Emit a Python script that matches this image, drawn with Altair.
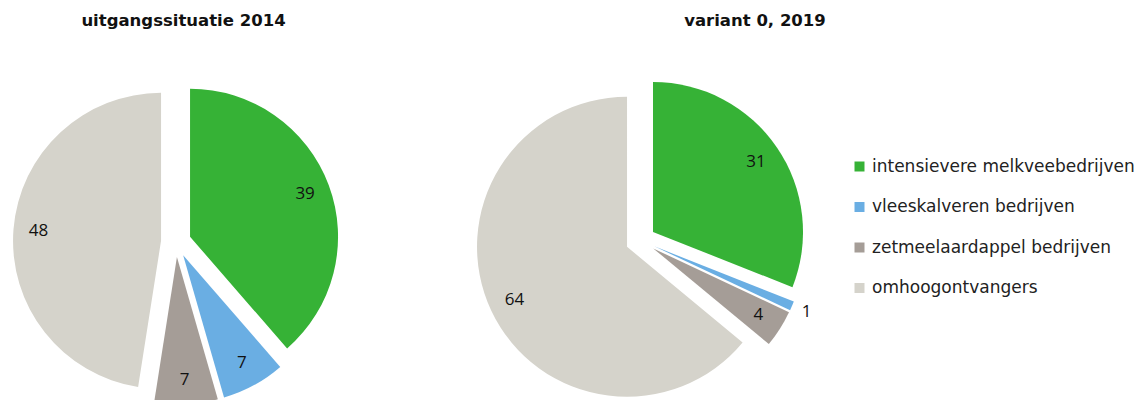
import altair as alt
import pandas as pd

# ---- data ----
panels = ["uitgangssituatie 2014", "variant 0, 2019"]
categories = [
    "intensievere melkveebedrijven",
    "vleeskalveren bedrijven",
    "zetmeelaardappel bedrijven",
    "omhoogontvangers",
]
values_2014 = [39, 7, 7, 48]
values_2019 = [31, 1, 4, 64]
colors = ["#36B236", "#6AAEE3", "#A59D97", "#D5D3CB"]

# ---- layout (pixels inside the chart) ----
CX = [168, 632.6]
CY = [234, 232.4]
R = [148, 150]
EXPLODE = 15
TITLE_X = [175.5, 747]
TITLE_Y = 13

rows = []
for p, vals in zip(panels, [values_2014, values_2019]):
    for i, (c, v) in enumerate(zip(categories, vals)):
        rows.append({"panel": p, "pidx": panels.index(p), "category": c, "order": i, "value": v})
df = pd.DataFrame(rows)

def pick(arr):
    return f"datum.pidx == 0 ? {arr[0]} : {arr[1]}"

base = (
    alt.Chart(df)
    .transform_joinaggregate(total="sum(value)", groupby=["panel"])
    .transform_window(cum="sum(value)", sort=[alt.SortField("order")], groupby=["panel"], frame=[None, 0])
    .transform_calculate(
        t1="datum.cum / datum.total * 2 * PI",
        t0="(datum.cum - datum.value) / datum.total * 2 * PI",
    )
    .transform_calculate(mid="(datum.t0 + datum.t1) / 2", cx=pick(CX), cy=pick(CY), r=pick(R))
    .transform_calculate(
        x=f"datum.cx + {EXPLODE} * sin(datum.mid)",
        y=f"datum.cy - {EXPLODE} * cos(datum.mid)",
        lr="datum.value < 3 ? datum.r + 16 : 0.83 * datum.r",
    )
    .transform_calculate(
        lx="datum.x + datum.lr * sin(datum.mid)",
        ly="datum.y - datum.lr * cos(datum.mid)",
    )
)

arcs = base.mark_arc(stroke=None).encode(
    theta=alt.Theta("t0:Q", scale=None, stack=None),
    theta2=alt.Theta2("t1:Q"),
    radius=alt.Radius("r:Q", scale=None),
    x=alt.X("x:Q", scale=None),
    y=alt.Y("y:Q", scale=None),
    color=alt.Color(
        "category:N",
        scale=alt.Scale(domain=categories, range=colors),
        legend=alt.Legend(
            title=None,
            orient="none",
            legendX=843,
            legendY=150,
            symbolType="square",
            symbolSize=100,
            symbolStrokeWidth=0,
            labelFont="DejaVu Sans",
            labelFontSize=17,
            labelColor="#222222",
            labelOffset=4,
            rowPadding=22.5,
            labelLimit=400,
        ),
    ),
    order=alt.Order("order:Q"),
)

labels = base.mark_text(font="Open Sans", fontSize=17, color="#111111", align="center", baseline="middle").encode(
    x=alt.X("lx:Q", scale=None),
    y=alt.Y("ly:Q", scale=None),
    text=alt.Text("value:Q"),
)

tdf = pd.DataFrame({"panel": panels, "pidx": [0, 1]})
titles = (
    alt.Chart(tdf)
    .transform_calculate(tx=pick(TITLE_X))
    .mark_text(font="DejaVu Sans", fontSize=16.5, fontWeight="bold", color="#111111", align="center", baseline="middle")
    .encode(x=alt.X("tx:Q", scale=None), y=alt.value(TITLE_Y), text="panel:N")
)

chart = (
    alt.layer(arcs, labels, titles)
    .properties(width=1132, height=392, autosize=alt.AutoSizeParams(type="none"), padding=0)
    .configure_view(stroke=None)
)

chart.save("out.html", embed_options={"renderer": "svg", "actions": False})
